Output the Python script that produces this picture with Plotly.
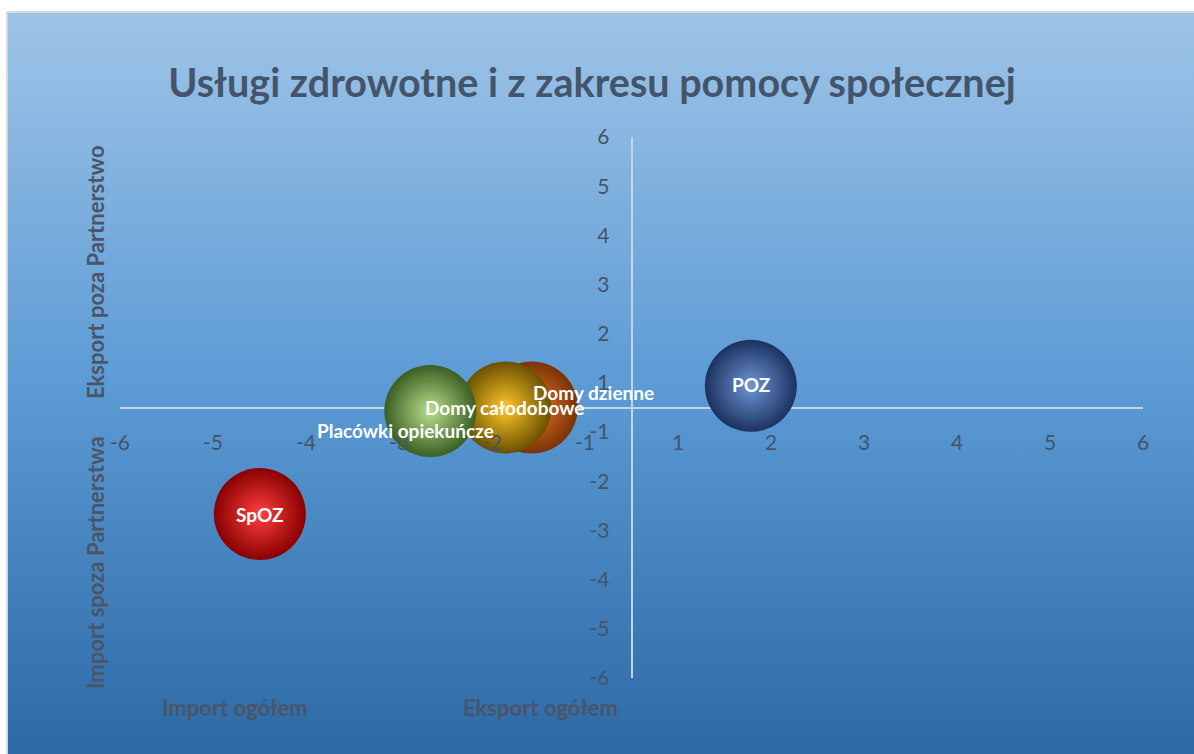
import base64
import numpy as np
import plotly.graph_objects as go

# ---------------- data ----------------
names = ["Domy dzienne", "Domy całodobowe", "Placówki opiekuńcze", "POZ", "SpOZ"]
x_vals = [-1.17, -1.48, -2.36, 1.40, -4.36]
y_vals = [0.0, 0.0, -0.08, 0.48, -2.36]
bubble_size = [1, 1, 1, 1, 1]
tick_labels = ["-6", "-5", "-4", "-3", "-2", "-1", "1", "2", "3", "4", "5", "6"]

title_text = "Usługi zdrowotne i z zakresu pomocy społecznej"
y_title_top = "Eksport poza Partnerstwo"
y_title_bottom = "Import spoza Partnerstwa"
x_title_left = "Import ogółem"
x_title_right = "Eksport ogółem"

# ---------------- styles ----------------
W, H = 1194, 754
edge_colors = ["#7a3206", "#6b5000", "#3b5e22", "#1c3260", "#8a0000"]
center_colors = ["#f07a28", "#ffc72a", "#b8e08c", "#6f95d6", "#ff4040"]
label_shift = [(62, 15), (0, 0), (-25, -19), (0, 1), (0, -1)]
FONT = "Lato, 'Open Sans', sans-serif"
TEXT2 = "#44546a"

px0, px1 = 120, 1143
py0, py1 = 137, 678
xdom = [px0 / W, px1 / W]
ydom = [1 - py1 / H, 1 - py0 / H]
xmid = (xdom[0] + xdom[1]) / 2
ymid = (ydom[0] + ydom[1]) / 2

svg = ('<svg xmlns="http://www.w3.org/2000/svg" width="100" height="100" viewBox="0 0 100 100" '
       'preserveAspectRatio="none"><defs><linearGradient id="g" x1="0" y1="0" x2="0" y2="1">'
       '<stop offset="0" stop-color="#9ec4e7"/><stop offset="0.5" stop-color="#5c9bd5"/>'
       '<stop offset="1" stop-color="#2d69a5"/></linearGradient></defs>'
       '<rect width="100" height="100" fill="url(#g)"/></svg>')
bg_uri = "data:image/svg+xml;base64," + base64.b64encode(svg.encode()).decode()

fig = go.Figure()
maxsize = max(bubble_size)
for i, n in enumerate(names):
    fig.add_trace(go.Scatter(
        x=[x_vals[i]], y=[y_vals[i]], mode="markers", name=n,
        marker=dict(size=[92 * bubble_size[i] / maxsize], sizemode="diameter",
                    color=edge_colors[i], opacity=1,
                    gradient=dict(type="radial", color=center_colors[i]),
                    line=dict(width=0)),
        hoverinfo="skip", showlegend=False,
    ))

annotations = []
for i, n in enumerate(names):
    annotations.append(dict(
        x=x_vals[i], y=y_vals[i], xref="x", yref="y", text=f"<b>{n}</b>",
        showarrow=False, xshift=label_shift[i][0], yshift=label_shift[i][1],
        xanchor="center", yanchor="middle",
        font=dict(family=FONT, size=19, color="white"),
    ))

title_font = dict(family=FONT, size=22, color="#4a5568")
annotations += [
    dict(x=95 / W, y=1 - 272 / H, xref="paper", yref="paper", text=f"<b>{y_title_top}</b>",
         textangle=-90, showarrow=False, font=title_font, xanchor="center", yanchor="middle"),
    dict(x=95 / W, y=1 - 563 / H, xref="paper", yref="paper", text=f"<b>{y_title_bottom}</b>",
         textangle=-90, showarrow=False, font=title_font, xanchor="center", yanchor="middle"),
    dict(x=235 / W, y=1 - 707 / H, xref="paper", yref="paper", text=f"<b>{x_title_left}</b>",
         showarrow=False, font=title_font, xanchor="center", yanchor="middle"),
    dict(x=540 / W, y=1 - 707 / H, xref="paper", yref="paper", text=f"<b>{x_title_right}</b>",
         showarrow=False, font=title_font, xanchor="center", yanchor="middle"),
]

tickpos = list(np.linspace(-6, 6, len(tick_labels)))
axis_common = dict(range=[-6, 6], showgrid=False, showline=False, zeroline=True,
                   zerolinecolor="rgba(205,213,225,0.95)", zerolinewidth=1.5,
                   tickmode="array", tickvals=tickpos, ticktext=tick_labels,
                   ticks="", tickfont=dict(family=FONT, size=21, color=TEXT2),
                   fixedrange=True, automargin=False)

fig.update_layout(
    width=W, height=H, autosize=False,
    margin=dict(l=0, r=0, t=0, b=0, pad=0),
    paper_bgcolor="white", plot_bgcolor="rgba(0,0,0,0)",
    title=dict(text=f"<b>{title_text}</b>", x=592 / W, xanchor="center",
               y=1 - 83 / H, yanchor="middle",
               font=dict(family=FONT, size=39.5, color=TEXT2)),
    xaxis=dict(domain=xdom, anchor="free", position=ymid, ticklabelstandoff=20, **axis_common),
    yaxis=dict(domain=ydom, anchor="free", position=xmid, ticklabelstandoff=22, **axis_common),
    images=[dict(source=bg_uri, xref="paper", yref="paper", x=8 / W, y=1 - 13 / H,
                 sizex=1 - 8 / W, sizey=1 - 13 / H, xanchor="left", yanchor="top",
                 sizing="stretch", layer="below")],
    shapes=[
        dict(type="line", xref="paper", yref="paper", x0=7 / W, x1=1, y0=1 - 12 / H, y1=1 - 12 / H,
             line=dict(color="#d9d9d9", width=2), layer="below"),
        dict(type="line", xref="paper", yref="paper", x0=7 / W, x1=7 / W, y0=0, y1=1 - 12 / H,
             line=dict(color="#d9d9d9", width=2), layer="below"),
    ],
    annotations=annotations,
    showlegend=False,
)

fig.write_html("out.html", config={"displayModeBar": False},
               post_script="document.body.style.margin='0px';document.body.style.overflow='hidden';")
